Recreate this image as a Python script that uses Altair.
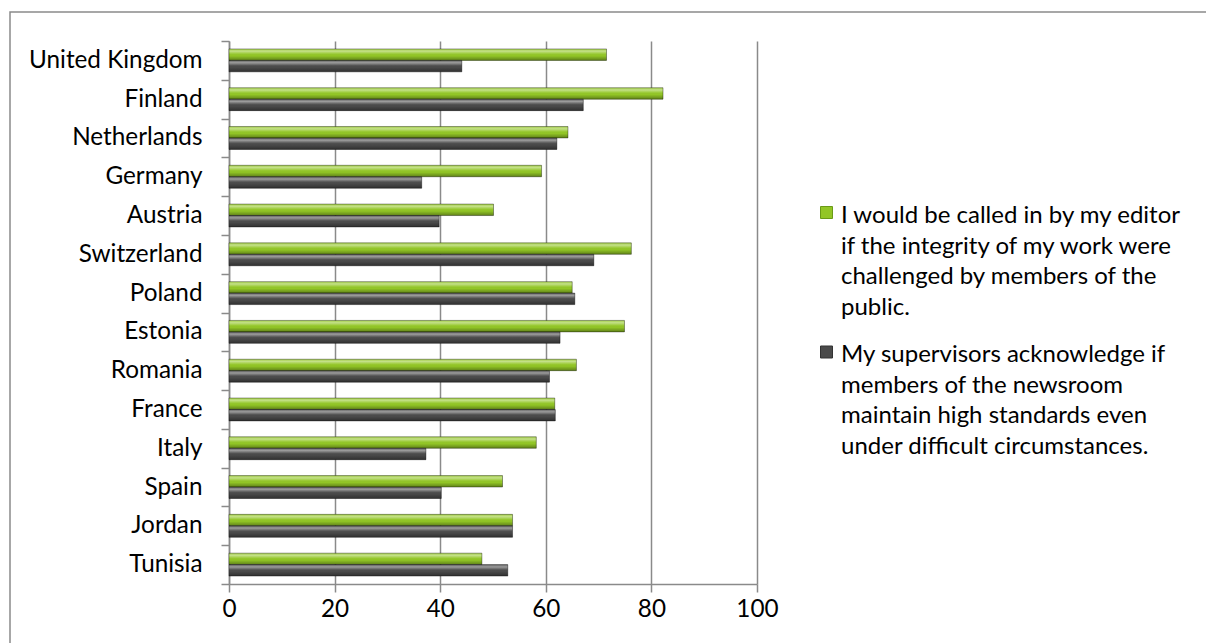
import altair as alt
import pandas as pd

countries = ["United Kingdom", "Finland", "Netherlands", "Germany", "Austria",
             "Switzerland", "Poland", "Estonia", "Romania", "France", "Italy",
             "Spain", "Jordan", "Tunisia"]
editor = [71.5, 82.2, 64.2, 59.2, 50.1, 76.2, 65.0, 74.9, 65.8, 61.7, 58.2, 51.8, 53.7, 47.9]
supervisors = [44.1, 67.1, 62.1, 36.5, 39.8, 69.1, 65.5, 62.7, 60.7, 61.8, 37.3, 40.2, 53.7, 52.8]
series = [
    "I would be called in by my editor if the integrity of my work were challenged by members of the public.",
    "My supervisors acknowledge if members of the newsroom maintain high standards even under difficult circumstances.",
]
legend_lines = [
    "I would be called in by my editor\nif the integrity of my work were\nchallenged by members of the\npublic.",
    "My supervisors acknowledge if\nmembers of the newsroom\nmaintain high standards even\nunder difficult circumstances.",
]
colors = ["#92c626", "#4a4a4a"]
x_ticks = [0, 20, 40, 60, 80, 100]

rows = []
for c, e, s in zip(countries, editor, supervisors):
    rows.append({"country": c, "series": series[0], "value": e})
    rows.append({"country": c, "series": series[1], "value": s})
df = pd.DataFrame(rows)

FONT = "Lato"
FS = 24.3
LFS = 24
GRID = "#8a8a8a"

x_enc = alt.X("value:Q", scale=alt.Scale(domain=[0, 100], nice=False),
              axis=alt.Axis(values=x_ticks, title=None, grid=True, gridColor=GRID,
                            gridWidth=1.5, domainColor=GRID, domainWidth=1.5,
                            tickColor=GRID, tickWidth=1.5, tickSize=8,
                            labelFont=FONT, labelFontSize=FS, labelColor="black",
                            labelPadding=5, labelFlush=False))
y_enc = alt.Y("country:N", sort=countries,
              scale=alt.Scale(paddingInner=0, paddingOuter=0),
              axis=alt.Axis(title=None, tickBand="extent", tickSize=8, tickColor=GRID,
                            tickWidth=1.5, domainColor=GRID, domainWidth=1.5,
                            labelFont=FONT, labelFontSize=FS, labelColor="black",
                            labelPadding=19))
yoff = alt.YOffset("series:N", sort=series,
                   scale=alt.Scale(paddingInner=0, paddingOuter=0.69))

base = alt.Chart(df)

shadow = base.mark_bar(color="rgba(0,0,0,0.10)", xOffset=3, yOffset=3, cornerRadius=1).encode(
    x=x_enc, y=y_enc, yOffset=yoff)

bars = base.mark_bar().encode(
    x=x_enc, y=y_enc, yOffset=yoff,
    color=alt.Color("series:N", sort=series,
                    scale=alt.Scale(domain=series, range=colors), legend=None))

gloss = base.mark_bar(
    stroke="rgba(0,0,0,0.35)", strokeWidth=1,
    color=alt.Gradient(gradient="linear", x1=0, x2=0, y1=0, y2=1, stops=[
        alt.GradientStop(color="rgba(255,255,255,0.15)", offset=0),
        alt.GradientStop(color="rgba(255,255,255,0.45)", offset=0.2),
        alt.GradientStop(color="rgba(255,255,255,0.05)", offset=0.45),
        alt.GradientStop(color="rgba(0,0,0,0.0)", offset=0.6),
        alt.GradientStop(color="rgba(0,0,0,0.35)", offset=1),
    ])).encode(x=x_enc, y=y_enc, yOffset=yoff)

one = pd.DataFrame({"a": [0]})
border = alt.Chart(one).mark_rect(fill="transparent", stroke="#8a8a8a", strokeWidth=1.5).encode(
    x=alt.value(-219), x2=alt.value(1400), y=alt.value(-29), y2=alt.value(800))

leg_df = pd.DataFrame({"label": legend_lines, "series": series})
sym1 = alt.Chart(leg_df.iloc[[0]]).mark_square(size=144, color=colors[0], opacity=1,
                                               stroke="#6a9a18", strokeWidth=1).encode(
    x=alt.value(597.5), y=alt.value(171.5))
sym2 = alt.Chart(leg_df.iloc[[1]]).mark_square(size=144, color=colors[1], opacity=1,
                                               stroke="#333333", strokeWidth=1).encode(
    x=alt.value(597.5), y=alt.value(311))
txt1 = alt.Chart(leg_df.iloc[[0]]).mark_text(
    align="left", baseline="alphabetic", font=FONT, fontSize=LFS, lineHeight=30.5,
    lineBreak="\n", color="black").encode(
    x=alt.value(612), y=alt.value(182), text="label:N")
txt2 = alt.Chart(leg_df.iloc[[1]]).mark_text(
    align="left", baseline="alphabetic", font=FONT, fontSize=LFS, lineHeight=30.5,
    lineBreak="\n", color="black").encode(
    x=alt.value(612), y=alt.value(321), text="label:N")

chart = alt.layer(border, shadow, bars, gloss, sym1, sym2, txt1, txt2).properties(
    width=528, height=543,
    autosize=alt.AutoSizeParams(type="none"),
    padding={"left": 229, "top": 41, "right": 449, "bottom": 59},
    background="white",
).configure_view(stroke="transparent")

chart.save("out.html", embed_options={"renderer": "svg", "actions": False})
